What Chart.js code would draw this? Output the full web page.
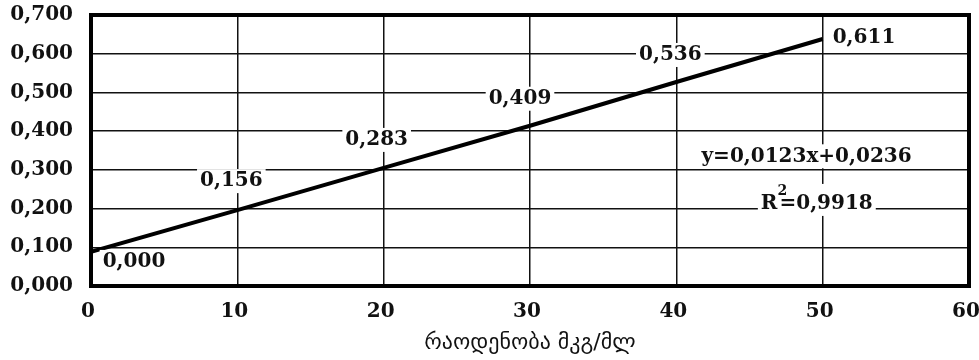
<!DOCTYPE html>
<html>
<head>
<meta charset="utf-8">
<script src="https://cdn.jsdelivr.net/npm/chart.js@4"></script>
<style>
  html, body { margin: 0; padding: 0; background: #fff; }
  #wrap { width: 979px; height: 360px; }
</style>
</head>
<body>
<div id="wrap"><canvas id="calib" width="979" height="360"></canvas></div>
<script>
// --- data ---
const concentrations = [0, 10, 20, 30, 40, 50];           // მკგ/მლ
const lineValues = [0.088, 0.196, 0.305, 0.414, 0.527, 0.638];
const pointLabels = ['0,000', '0,156', '0,283', '0,409', '0,536', '0,611'];
const equationText = 'y=0,0123x+0,0236';
const r2Text = '=0,9918';
const xTitle = 'რაოდენობა მკგ/მლ';

const SERIF = "'DejaVu Serif', serif";
const FS = 20;

// white-boxed text at a pixel position
function boxText(ctx, txt, x, y, align) {
  ctx.font = 'bold ' + FS + 'px ' + SERIF;
  const w = ctx.measureText(txt).width;
  const left = align === 'left' ? x : x - w / 2;
  ctx.fillStyle = '#fff';
  ctx.fillRect(left - 3, y - 12, w + 6, 24);
  ctx.fillStyle = '#111';
  ctx.textAlign = 'left';
  ctx.textBaseline = 'middle';
  ctx.fillText(txt, left, y);
}

const labelsPlugin = {
  id: 'labels',
  afterDatasetsDraw(chart) {
    const { ctx, scales: { x, y } } = chart;
    ctx.save();
    // offsets of each value label from its point on the line
    const offs = [[43, 10], [-6, -29], [-7, -28], [-10, -27], [-6, -27], [10, -1]];
    concentrations.forEach((c, i) => {
      const px = x.getPixelForValue(c) + offs[i][0];
      const py = y.getPixelForValue(lineValues[i]) + offs[i][1];
      boxText(ctx, pointLabels[i], px, py, i === 5 ? 'left' : 'center');
    });
    // trend equation
    boxText(ctx, equationText, x.getPixelForValue(48.9), y.getPixelForValue(0.335), 'center');
    // R² with raised 2
    ctx.font = 'bold ' + FS + 'px ' + SERIF;
    const rw = ctx.measureText('R').width, ew = ctx.measureText(r2Text).width;
    const cx = x.getPixelForValue(49.6), cy = y.getPixelForValue(0.212);
    const tot = rw + 2 + ew;
    const l = cx - tot / 2;
    ctx.fillStyle = '#fff';
    ctx.fillRect(l - 3, cy - 20, tot + 6, 32);
    ctx.fillStyle = '#111';
    ctx.textBaseline = 'middle';
    ctx.textAlign = 'left';
    ctx.fillText('R', l, cy);
    ctx.font = 'bold 14px ' + SERIF;
    ctx.fillText('2', l + rw, cy - 13);
    ctx.font = 'bold ' + FS + 'px ' + SERIF;
    ctx.fillText(r2Text, l + rw + 2, cy);
    ctx.restore();
  },
  afterDraw(chart) {
    const { ctx, chartArea: a } = chart;
    ctx.save();
    ctx.strokeStyle = '#000';
    ctx.lineWidth = 4;
    ctx.strokeRect(a.left, a.top, a.right - a.left, a.bottom - a.top);
    ctx.restore();
  }
};

new Chart(document.getElementById('calib'), {
  type: 'line',
  data: {
    datasets: [{
      data: concentrations.map((c, i) => ({ x: c, y: lineValues[i] })),
      borderColor: '#000',
      borderWidth: 4,
      pointRadius: 0,
      tension: 0,
      fill: false
    }]
  },
  options: {
    responsive: false,
    animation: false,
    devicePixelRatio: 1,
    layout: { padding: { top: 15, right: 10, left: 0, bottom: 0 } },
    plugins: { legend: { display: false }, tooltip: { enabled: false } },
    scales: {
      x: {
        type: 'linear',
        min: 0, max: 60,
        afterFit(s) { s.height = 74; s.paddingLeft = 0; s.paddingRight = 0; },
        ticks: {
          stepSize: 10,
          color: '#111',
          padding: 14,
          labelOffset: -3,
          font: { family: SERIF, size: FS, weight: 'bold' }
        },
        grid: { color: '#111', lineWidth: 1.5, drawTicks: false },
        border: { display: false },
        title: {
          display: true,
          text: xTitle,
          color: '#111',
          padding: { top: 6 },
          font: { family: "'DejaVu Sans', sans-serif", size: 22 }
        }
      },
      y: {
        min: 0, max: 0.7,
        afterFit(s) { s.width = 91; s.paddingTop = 0; s.paddingBottom = 0; },
        ticks: {
          stepSize: 0.1,
          color: '#111',
          padding: 18,
          font: { family: SERIF, size: FS, weight: 'bold' },
          callback: v => v.toFixed(3).replace('.', ',')
        },
        grid: { color: '#111', lineWidth: 1.5, drawTicks: false },
        border: { display: false }
      }
    }
  },
  plugins: [labelsPlugin]
});
</script>
</body>
</html>
